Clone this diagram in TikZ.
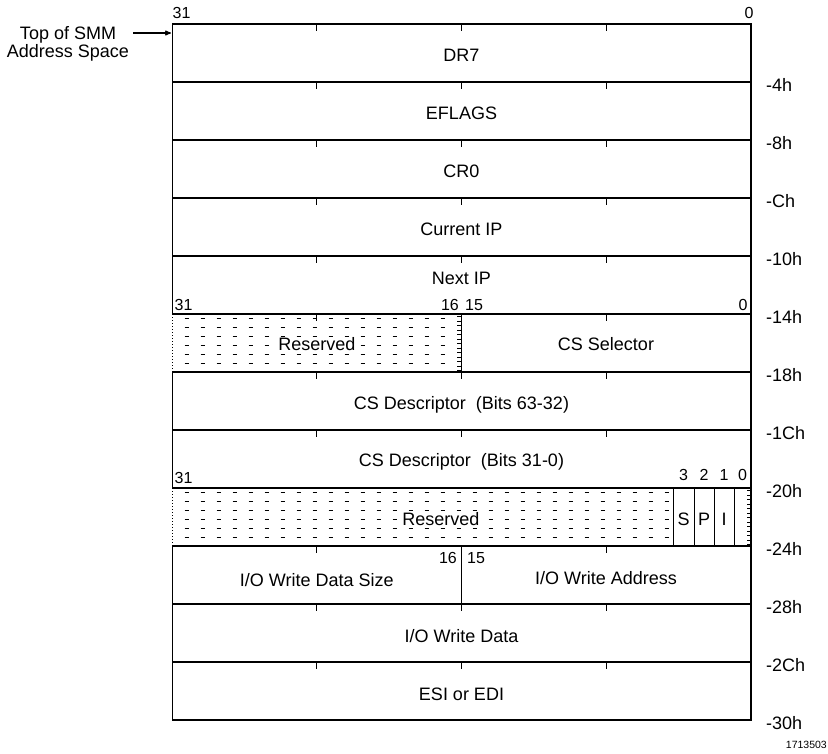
\documentclass[tikz,border=0pt]{standalone}
\usepackage{fontspec}
\setmainfont{Liberation Sans}
\usepackage{tikz}
\usetikzlibrary{arrows, positioning}

\begin{document}
\begin{tikzpicture}[x=1pt,y=-1pt,>=stealth',font=\fontsize{18}{16}\selectfont]

		\tikzstyle{field}=[inner sep=1pt,text height=12.8pt,text depth=0pt]
		\tikzstyle{bit}=[inner sep=0pt,text height=11.5pt,text depth=0pt,
			font=\fontsize{16}{18}\selectfont]
		\tikzstyle{offset}=[field,anchor=west,inner sep=0pt]
		\tikzstyle{rowline}=[line width=1.8pt]
		\tikzstyle{thinline}=[line width=1pt]
		\tikzstyle{tick}=[line width=1.2pt]
		\tikzstyle{dots}=[line width=1.6pt]
		\tikzstyle{edgedots}=[line width=4pt,dash pattern=on 1.3pt off 3.2pt]

		\useasboundingbox (0,0) rectangle (828,753);

		% dotted reserved fields
		\foreach \x in {186.7,202.7,...,452}
			\foreach \y in {318.5,327.5,...,364}
				\draw[dots] (\x-2,\y) -- (\x+2,\y);
		\foreach \x in {186.7,202.7,...,668}
			\foreach \y in {492.5,501.5,...,538}
				\draw[dots] (\x-2,\y) -- (\x+2,\y);
		\draw[edgedots] (459,316) -- (459,371);
		\draw[edgedots] (749,490) -- (749,545);

		% frame
		\draw[thinline] (172,24) -- (172,314);
		\draw[thinline] (172,372) -- (172,488);
		\draw[thinline] (172,546) -- (172,720);
		\draw[thinline,dotted] (172,314) -- (172,372);
		\draw[thinline,dotted] (172,488) -- (172,546);
		\draw[rowline] (751,23.1) -- (751,720.9);
		\foreach \i [evaluate=\i as \y using 24+58*\i] in {0,...,12}
			\draw[rowline] (172,\y) -- (751,\y);
		\foreach \i [evaluate=\i as \y using 24+58*\i] in {0,...,7,9,10,11}
			\foreach \x in {316.75,461.5,606.25}
				\draw[tick] (\x,\y) -- (\x,\y+7);
		\draw[thinline] (461.5,314) -- (461.5,372);
		\draw[thinline] (461.5,546) -- (461.5,604);
		\foreach \x in {673,694,714,734}
			\draw[thinline] (\x,488) -- (\x,546);

		% fields
		\node [field] (dr7) at (461.5,55) {DR7};
		\node [field] (eflags) at (461.5,113) {EFLAGS};
		\node [field] (cr0) at (461.5,171) {CR0};
		\node [field] (curip) at (461.5,229) {Current IP};
		\node [field] (nextip) at (461.5,278) {Next IP};
		\node [field, fill=white] (res1) at (317,344) {Reserved};
		\node [field] (cssel) at (606,344) {CS Selector};
		\node [field] (csdhi) at (461.5,403) {CS Descriptor\ \ (Bits 63-32)};
		\node [field] (csdlo) at (461.5,460) {CS Descriptor\ \ (Bits 31-0)};
		\node [field, fill=white] (res2) at (441,519) {Reserved};
		\node [field] (sbit) at (683.5,519) {S};
		\node [field] (pbit) at (704,519) {P};
		\node [field] (ibit) at (724,519) {I};
		\node [field] (iosize) at (316.75,580) {I/O Write Data Size};
		\node [field] (ioaddr) at (606,578) {I/O Write Address};
		\node [field] (iodata) at (461.5,636) {I/O Write Data};
		\node [field] (esiedi) at (461.5,694) {ESI or EDI};

		% bit numbers
		\node [bit, anchor=west] (b31a) at (172.5,13) {31};
		\node [bit] (b0a) at (749,13) {0};
		\node [bit, anchor=west] (b31b) at (174.5,305) {31};
		\node [bit, anchor=east] (b16b) at (459,305) {16};
		\node [bit, anchor=west] (b15b) at (465,305) {15};
		\node [bit] (b0b) at (743,305) {0};
		\node [bit, anchor=west] (b31c) at (174.5,478) {31};
		\node [bit] (b3c) at (683.5,475) {3};
		\node [bit] (b2c) at (704,475) {2};
		\node [bit] (b1c) at (724,475) {1};
		\node [bit] (b0c) at (742.5,475) {0};
		\node [bit, anchor=east] (b16d) at (457,558) {16};
		\node [bit, anchor=west] (b15d) at (467,558) {15};

		% offsets
		\foreach \lbl [count=\i, evaluate=\i as \y using 27+58*\i] in
			{-4h,-8h,-Ch,-10h,-14h,-18h,-1Ch,-20h,-24h,-28h,-2Ch,-30h}
			\node [offset] (off\i) at (766,\y) {\lbl};

		% start of SMM space
		\node [align=center, inner sep=1pt] (smm) at (68,44) {Top of SMM\\Address Space};
		\coordinate (smmtip) at (171,33);
		\draw [->, line width=1.1pt] (133,33) -- (smmtip);

		\node [anchor=east, inner sep=0pt, font=\fontsize{10.5}{12}\selectfont]
			(fignum) at (827,745) {1713503};
	\end{tikzpicture}
\end{document}
